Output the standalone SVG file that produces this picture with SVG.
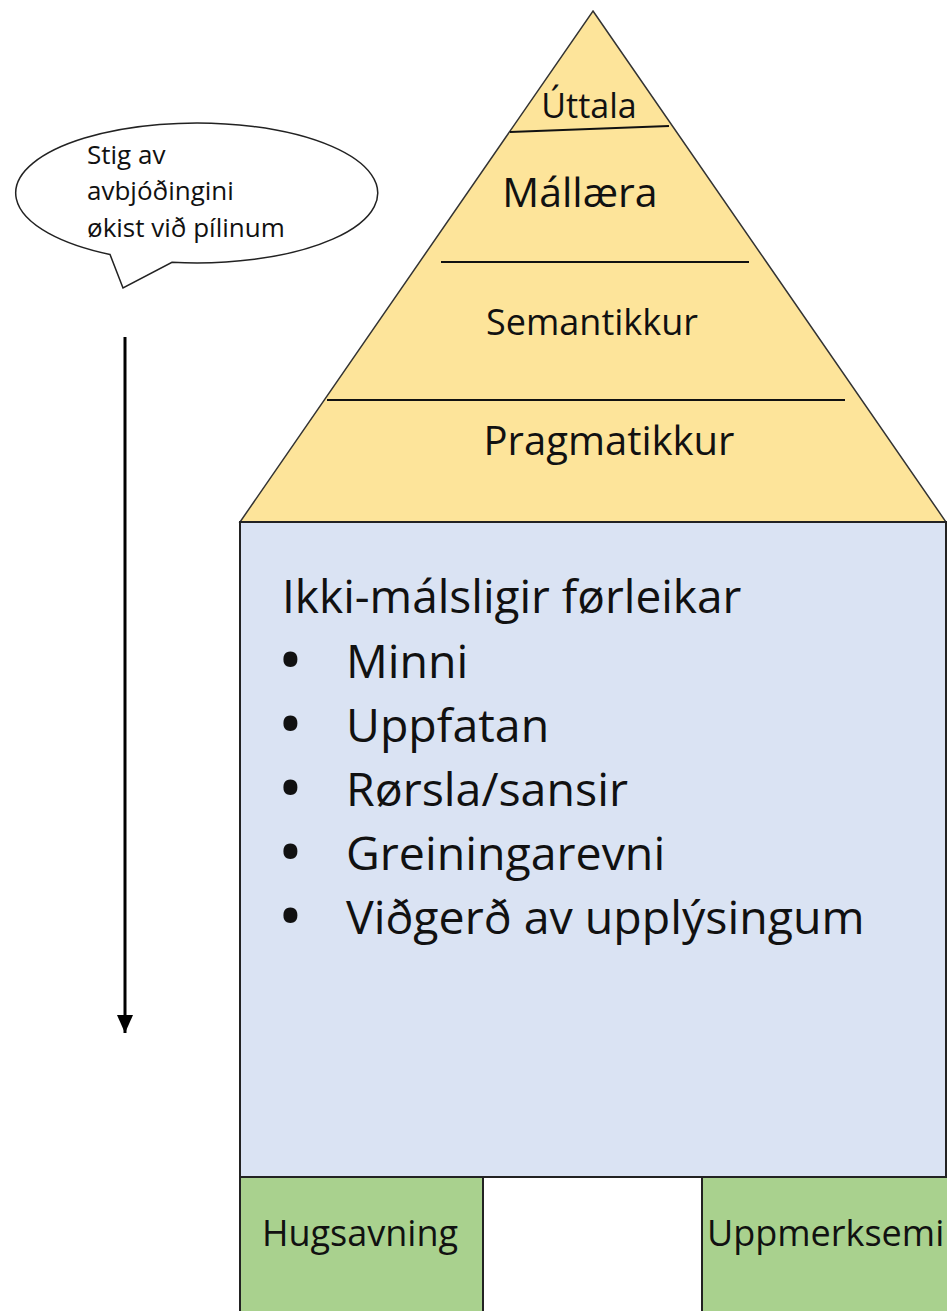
<svg xmlns="http://www.w3.org/2000/svg" width="947" height="1311" viewBox="0 0 947 1311">
<defs>
<style>
text{font-family:"Open Sans","Liberation Sans",sans-serif;fill:#111}
.ln{stroke:#111;stroke-width:2;fill:none}
.mid{text-anchor:middle}
.bul{font-weight:bold;font-size:50px}
</style>
<marker id="ah" viewBox="0 0 18 16" refX="18" refY="8" markerWidth="18" markerHeight="16" markerUnits="userSpaceOnUse" orient="auto"><path d="M0,0 L18,8 L0,16 z" fill="#000"/></marker>
</defs>
<rect width="947" height="1311" fill="#fff"/>
<g id="roof">
<polygon points="593,11 946,522 240,522" fill="#fde49a" stroke="#333" stroke-width="1.5"/>
<line class="ln" x1="510" y1="132" x2="669" y2="126"/>
<line class="ln" x1="441" y1="262" x2="749" y2="262"/>
<line class="ln" x1="327" y1="400" x2="845" y2="400"/>
<text class="mid" x="589" y="118" font-size="34">Úttala</text>
<text class="mid" x="580" y="207" font-size="41">Mállæra</text>
<text class="mid" x="592" y="335" font-size="36">Semantikkur</text>
<text class="mid" x="609" y="455" font-size="40">Pragmatikkur</text>
</g>
<g id="body">
<rect x="240" y="522" width="706" height="655" fill="#dae3f3" stroke="#222" stroke-width="2"/>
<text x="282" y="613" font-size="46">Ikki-málsligir førleikar</text>
<g font-size="46.5">
<text x="281" y="678"><tspan class="bul">•</tspan><tspan x="346">Minni</tspan></text>
<text x="281" y="742"><tspan class="bul">•</tspan><tspan x="346">Uppfatan</tspan></text>
<text x="281" y="806"><tspan class="bul">•</tspan><tspan x="346">Rørsla/sansir</tspan></text>
<text x="281" y="870"><tspan class="bul">•</tspan><tspan x="346">Greiningarevni</tspan></text>
<text x="281" y="934"><tspan class="bul">•</tspan><tspan x="346">Viðgerð av upplýsingum</tspan></text>
</g>
</g>
<g id="hugsavning">
<rect x="240" y="1177" width="243" height="140" fill="#a9d18e" stroke="#222" stroke-width="2"/>
<text class="mid" x="360" y="1246" font-size="36">Hugsavning</text>
</g>
<g id="middle">
<rect x="483" y="1177" width="219" height="140" fill="#fff" stroke="#222" stroke-width="2"/>
</g>
<g id="uppmerksemi">
<rect x="702" y="1177" width="250" height="140" fill="#a9d18e" stroke="#222" stroke-width="2"/>
<text x="707" y="1246" font-size="36">Uppmerksemi</text>
</g>
<g id="callout">
<path d="M110,254.4 A181,70 0 1 1 172,262.3 L123,288 Z" fill="#fff" stroke="#222" stroke-width="1.5"/>
<g font-size="26">
<text x="87" y="164">Stig av</text>
<text x="87" y="200">avbjóðingini</text>
<text x="87" y="237">økist við pílinum</text>
</g>
</g>
<g id="connectors">
<line x1="125" y1="337" x2="125" y2="1033" stroke="#000" stroke-width="3" marker-end="url(#ah)"/>
</g>
</svg>
